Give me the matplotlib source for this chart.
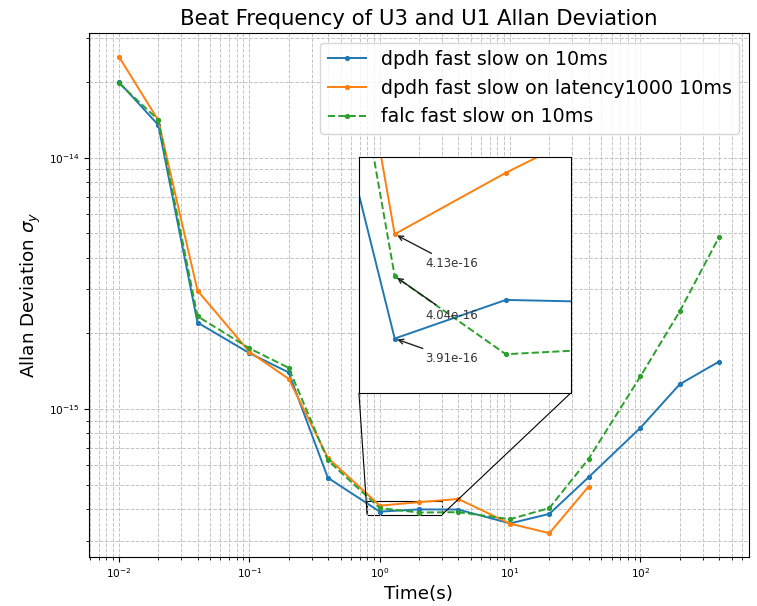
import numpy as np
import matplotlib
matplotlib.use("Agg")
import matplotlib.pyplot as plt
from mpl_toolkits.axes_grid1.inset_locator import mark_inset

# ---- 数据 ----
tau = [0.01, 0.02, 0.04, 0.1, 0.2, 0.4, 1, 2, 4, 10, 20, 40, 100, 200, 400]
dpdh = [2.0e-14, 1.35e-14, 2.21e-15, 1.67e-15, 1.40e-15, 5.33e-16, 3.91e-16, 3.99e-16,
        3.985e-16, 3.51e-16, 3.83e-16, 5.36e-16, 8.43e-16, 1.256e-15, 1.545e-15]
tau_lat = [0.01, 0.02, 0.04, 0.1, 0.2, 0.4, 1, 2, 4, 10, 20, 40]
dpdh_lat = [2.52e-14, 1.41e-14, 2.96e-15, 1.69e-15, 1.32e-15, 6.40e-16, 4.13e-16, 4.265e-16,
            4.39e-16, 3.50e-16, 3.21e-16, 4.92e-16]
falc = [1.98e-14, 1.415e-14, 2.34e-15, 1.745e-15, 1.46e-15, 6.25e-16, 4.04e-16, 3.878e-16,
        3.89e-16, 3.65e-16, 4.04e-16, 6.34e-16, 1.35e-15, 2.45e-15, 4.83e-15]
labels = ["dpdh fast slow on 10ms", "dpdh fast slow on latency1000 10ms", "falc fast slow on 10ms"]
notes = ["4.13e-16", "4.04e-16", "3.91e-16"]

C = ["#1f77b4", "#ff7f0e", "#2ca02c"]
LW, MS = 1.4, 5.5


def draw(a):
    a.plot(tau, dpdh, color=C[0], marker=".", lw=LW, ms=MS, label=labels[0])
    a.plot(tau_lat, dpdh_lat, color=C[1], marker=".", lw=LW, ms=MS, label=labels[1])
    a.plot(tau, falc, color=C[2], marker=".", ls="--", lw=LW, ms=MS, label=labels[2])
    a.set_xscale("log"); a.set_yscale("log")


fig = plt.figure(figsize=(7.57, 6.06), dpi=100)
ax = fig.add_axes([0.1176, 0.0809, 0.8718, 0.8646])
draw(ax)
ax.grid(True, which="both", ls="--", color="#c4c4c4", lw=0.7)
ax.tick_params(labelsize=7.6)
ax.set_xlabel("Time(s)", fontsize=13.2, labelpad=3)
ax.set_ylabel(r"Allan Deviation $\sigma_y$", fontsize=13.2)
ax.set_title("Beat Frequency of U3 and U1 Allan Deviation", fontsize=15.3)
ax.legend(loc="upper right", fontsize=13.7)

# ---- 局部放大 ----
axins = ax.inset_axes([0.409, 0.313, 0.321, 0.450])
draw(axins)
axins.set_xlim(0.8, 3); axins.set_ylim(3.8e-16, 4.3e-16)
axins.set_xticks([]); axins.set_yticks([])
axins.set_xticks([], minor=True); axins.set_yticks([], minor=True)
axins.tick_params(which="both", labelleft=False, labelbottom=False, length=0)
for y, txt, off in zip([dpdh_lat[6], falc[6], dpdh[6]], notes, [(22, -24), (22, -31), (22, -17)]):
    axins.annotate(txt, xy=(1, y), xytext=off, textcoords="offset points", fontsize=8.5,
                   color="#333333", arrowprops=dict(arrowstyle="->", color="#222222", lw=1))
mark_inset(ax, axins, loc1=3, loc2=4, fc="none", ec="black", lw=0.8)

fig.savefig("out.png", dpi=100)
